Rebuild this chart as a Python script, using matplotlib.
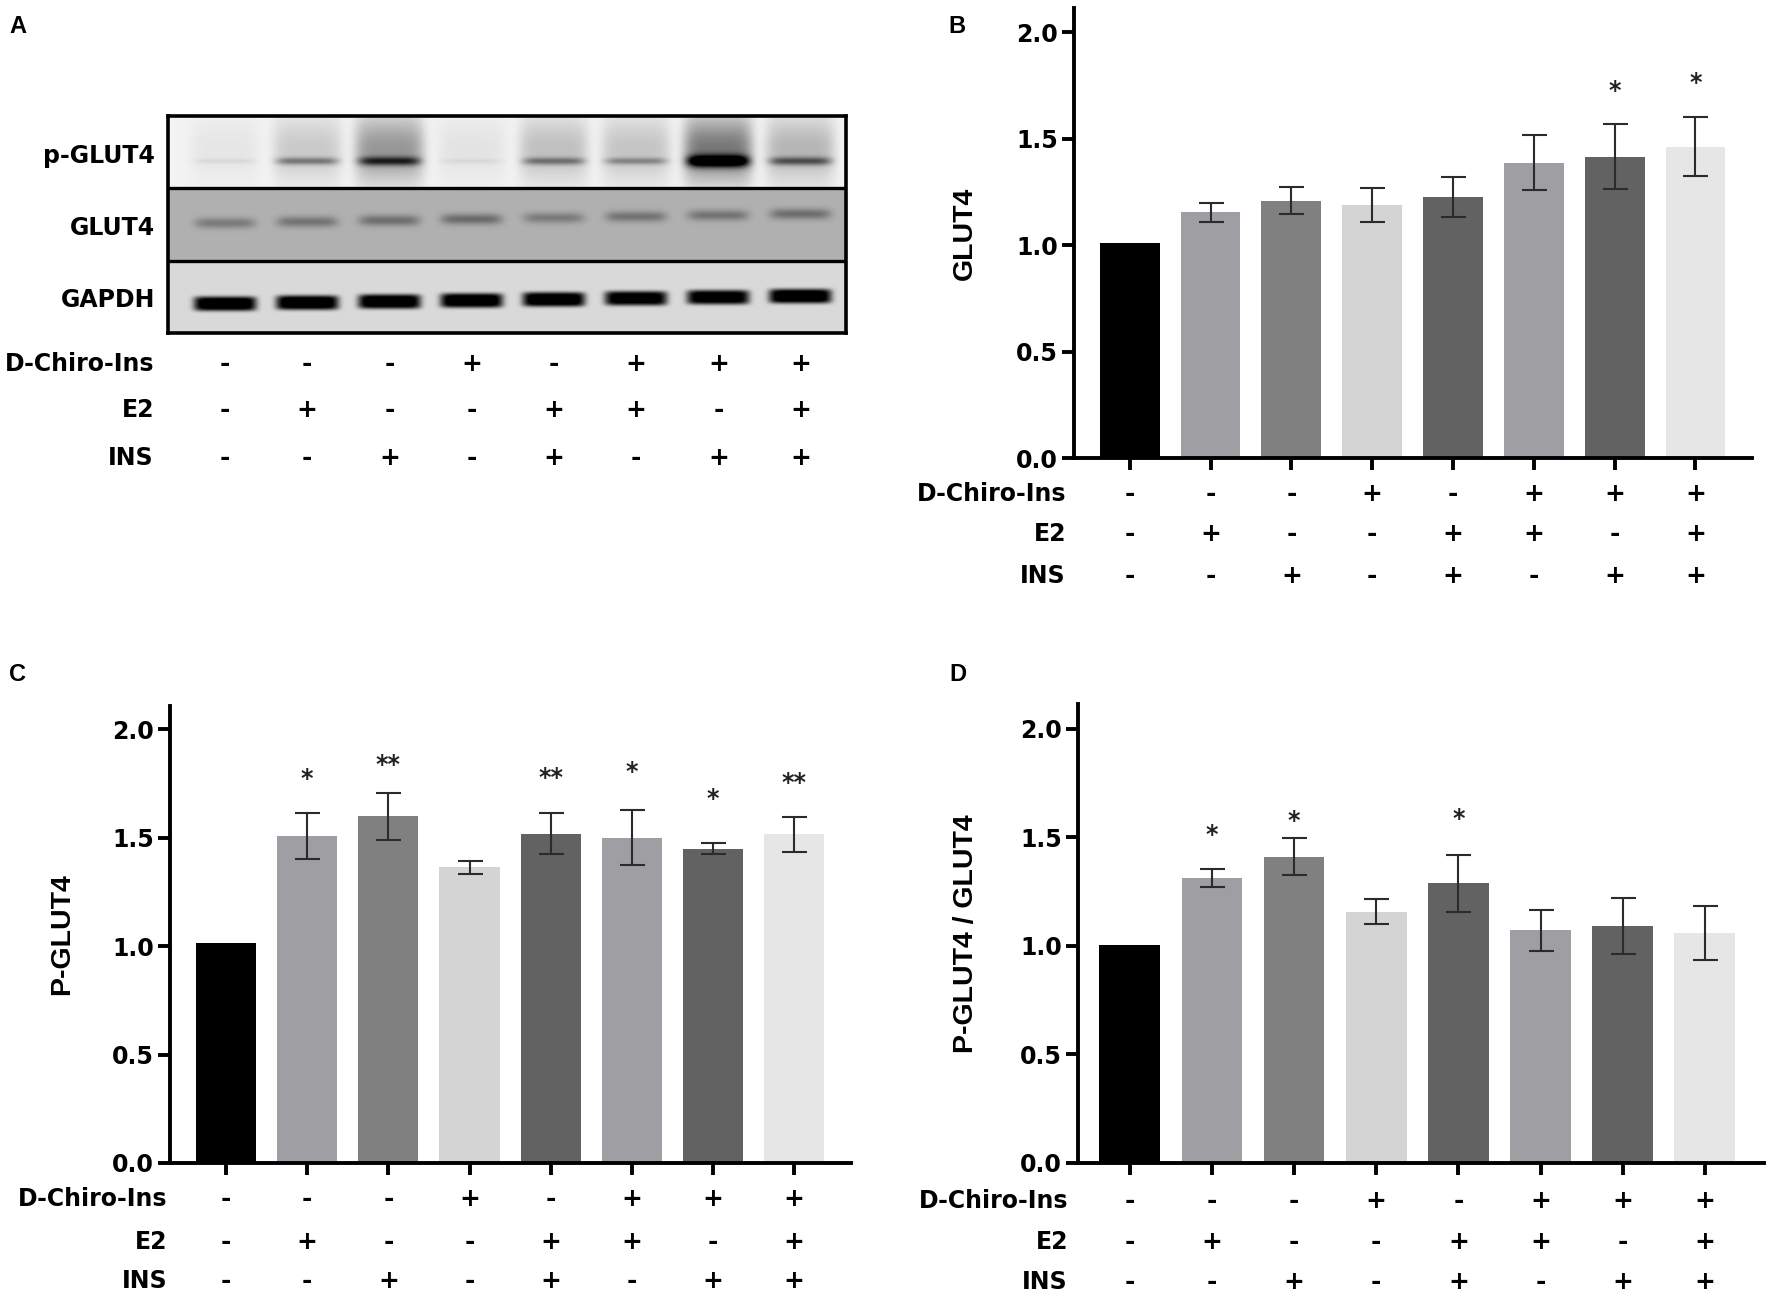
import numpy as np
import matplotlib
matplotlib.use("Agg")
from matplotlib import pyplot as plt
from matplotlib import transforms

# treatment table (same for all panels)
row_names = ["D-Chiro-Ins", "E2", "INS"]
dchiro = ["-", "-", "-", "+", "-", "+", "+", "+"]
e2 = ["-", "+", "-", "-", "+", "+", "-", "+"]
ins = ["-", "-", "+", "-", "+", "-", "+", "+"]

bar_colors = ["#000000", "#9e9ea3", "#808080", "#d4d4d4",
              "#626262", "#9e9ea3", "#626262", "#e6e6e6"]

# panel B - GLUT4
glut4_mean = [1.01, 1.153, 1.209, 1.187, 1.224, 1.387, 1.415, 1.462]
glut4_err = [0, 0.045, 0.064, 0.081, 0.094, 0.13, 0.154, 0.14]
glut4_sig = [None, None, None, None, None, None, "*", "*"]
glut4_sig_y = [0, 0, 0, 0, 0, 0, 1.757, 1.794]

# panel C - P-GLUT4
pglut4_mean = [1.012, 1.506, 1.597, 1.364, 1.518, 1.500, 1.449, 1.514]
pglut4_err = [0, 0.106, 0.11, 0.03, 0.095, 0.128, 0.027, 0.08]
pglut4_sig = [None, "*", "**", None, "**", "*", "*", "**"]
pglut4_sig_y = [0, 1.802, 1.868, 0, 1.808, 1.834, 1.709, 1.783]

# panel D - ratio
ratio_mean = [1.006, 1.314, 1.412, 1.157, 1.288, 1.073, 1.092, 1.059]
ratio_err = [0, 0.041, 0.087, 0.058, 0.13, 0.094, 0.13, 0.125]
ratio_sig = [None, "*", "*", None, "*", None, None, None]
ratio_sig_y = [0, 1.545, 1.608, 0, 1.616, 0, 0, 0]

# western blot band darkness per lane (0 = none, 1 = black)
blot_names = ["p-GLUT4", "GLUT4", "GAPDH"]
pg_band = [0.06, 0.35, 0.55, 0.05, 0.35, 0.28, 0.95, 0.45]
pg_smear = [0.05, 0.16, 0.36, 0.06, 0.2, 0.18, 0.48, 0.24]
g4_band = [0.42, 0.48, 0.52, 0.55, 0.42, 0.48, 0.48, 0.52]
gapdh_band = [1.0, 1.0, 1.0, 1.0, 1.0, 0.95, 0.95, 1.0]

W, H = 1772, 1304
fig = plt.figure(figsize=(W / 100, H / 100), dpi=100)
BOLD = dict(family="DejaVu Sans", weight="bold")
TS = 17


def fx(px):
    return px / W


def fy(py):
    return 1 - py / H


def sign_rows(ax, ys, label_x):
    tr = transforms.blended_transform_factory(ax.transData, fig.transFigure)
    for name, signs, yy in zip(row_names, [dchiro, e2, ins], ys):
        fig.text(fx(label_x), yy, name, ha="right", va="center", fontsize=TS, **BOLD)
        for i, s in enumerate(signs):
            ax.text(i, yy, s, transform=tr, ha="center", va="center",
                    fontsize=TS + 1, clip_on=False, **BOLD)


def bar_panel(ax, mean, err, sig, sig_y, ylabel, ytop, xlim, lab_x):
    x = np.arange(len(mean))
    ax.bar(x, mean, width=0.74, color=bar_colors, zorder=2)
    e = [v if v > 0 else np.nan for v in err]
    ax.errorbar(x, mean, yerr=e, fmt="none", ecolor="#2b2b2b", elinewidth=1.5,
                capsize=9, capthick=1.5, zorder=3)
    for i, s in enumerate(sig):
        if s:
            ax.annotate(s, (i, sig_y[i]), xytext=(0, -10), textcoords="offset points",
                        ha="center", va="baseline", fontsize=17, color="#222222",
                        **BOLD)
    ax.set_xlim(*xlim)
    ax.set_ylim(0, ytop)
    ax.set_yticks([0, 0.5, 1.0, 1.5, 2.0])
    ax.set_yticklabels(["0.0", "0.5", "1.0", "1.5", "2.0"])
    ax.set_xticks(x)
    ax.set_xticklabels([])
    for sp in ["top", "right"]:
        ax.spines[sp].set_visible(False)
    for sp in ["left", "bottom"]:
        ax.spines[sp].set_linewidth(2.8)
    ax.tick_params(axis="both", width=2.8, length=8.5, direction="out")
    ax.tick_params(axis="y", pad=3)
    for t in ax.get_yticklabels():
        t.set_fontsize(TS)
        t.set_fontweight("bold")
        t.set_family("DejaVu Sans")
    ax.set_ylabel(ylabel, fontsize=20.5, fontweight="bold", family="Liberation Sans")
    ax.yaxis.set_label_coords(lab_x, 0.5)


# ---- panel A: blot
ax_a = fig.add_axes([fx(168), fy(333), fx(678), 217 / H])
x0, x1 = -0.69, 7.55
xs = np.linspace(x0, x1, 678)
ys = np.linspace(0, 3, 217)
XX, YY = np.meshgrid(xs, ys)
dark = np.zeros_like(XX)
s1 = YY < 1
s2 = (YY >= 1) & (YY < 2)
s3 = YY >= 2
dark[s1] = 0.05
dark[s2] = 0.31
dark[s3] = 0.15
for i in range(8):
    dx = XX - i
    lane = np.exp(-(dx / 0.42) ** 6)
    # p-GLUT4
    smear = pg_smear[i] * lane * np.exp(-((YY - 0.45) / 0.45) ** 2)
    sig = 0.035 + 0.05 * pg_band[i]
    band = pg_band[i] * np.exp(-(dx / 0.38) ** 6) * np.exp(-((YY - 0.62) / sig) ** 2)
    dark += np.where(s1, smear + band, 0)
    # GLUT4
    yc = 1.48 - 0.018 * i
    band = 0.5 * g4_band[i] * np.exp(-(dx / 0.37) ** 6) * np.exp(-((YY - yc) / 0.075) ** 2)
    dark += np.where(s2, band, 0)
    # GAPDH
    yc = 2.6 - 0.015 * i
    band = gapdh_band[i] * np.exp(-(dx / 0.38) ** 8) * np.exp(-((YY - yc) / 0.1) ** 4)
    dark += np.where(s3, band, 0)
dark = np.clip(dark, 0, 1)
ax_a.imshow(dark, cmap="gray_r", vmin=0, vmax=1, extent=[x0, x1, 3, 0],
            aspect="auto", interpolation="bilinear")
ax_a.set_xlim(x0, x1)
ax_a.set_ylim(3, 0)
for yy in [1, 2]:
    ax_a.axhline(yy, color="black", lw=2.4)
for sp in ax_a.spines.values():
    sp.set_linewidth(2.6)
ax_a.set_xticks([])
ax_a.set_yticks([])
for k, name in enumerate(blot_names):
    ax_a.text(-0.85, k + 0.55, name, ha="right", va="center", fontsize=TS, **BOLD)
sign_rows(ax_a, [fy(364), fy(410), fy(458)], 154)

# ---- panel B
ax_b = fig.add_axes([fx(1074), fy(458), fx(678), 450 / H])
bar_panel(ax_b, glut4_mean, glut4_err, glut4_sig, glut4_sig_y, "GLUT4",
          2.113, (-0.69, 7.70), -0.142)
sign_rows(ax_b, [fy(494), fy(534), fy(576)], 1066)

# ---- panel C
ax_c = fig.add_axes([fx(170), fy(1163), fx(681), 457 / H])
bar_panel(ax_c, pglut4_mean, pglut4_err, pglut4_sig, pglut4_sig_y, "P-GLUT4",
          2.106, (-0.69, 7.70), -0.14)
sign_rows(ax_c, [fy(1199), fy(1242), fy(1281)], 167)

# ---- panel D
ax_d = fig.add_axes([fx(1078), fy(1163), fx(686), 459 / H])
bar_panel(ax_d, ratio_mean, ratio_err, ratio_sig, ratio_sig_y, "P-GLUT4 / GLUT4",
          2.115, (-0.63, 7.72), -0.144)
sign_rows(ax_d, [fy(1201), fy(1242), fy(1282)], 1068)

# panel letters
for lab, px, py in [("A", 9, 33), ("B", 948, 33), ("C", 9, 681), ("D", 949, 681)]:
    fig.text(fx(px), fy(py), lab, ha="left", va="baseline", fontsize=17,
             fontweight="bold", family="Liberation Sans")

fig.savefig("out.png", dpi=100)
